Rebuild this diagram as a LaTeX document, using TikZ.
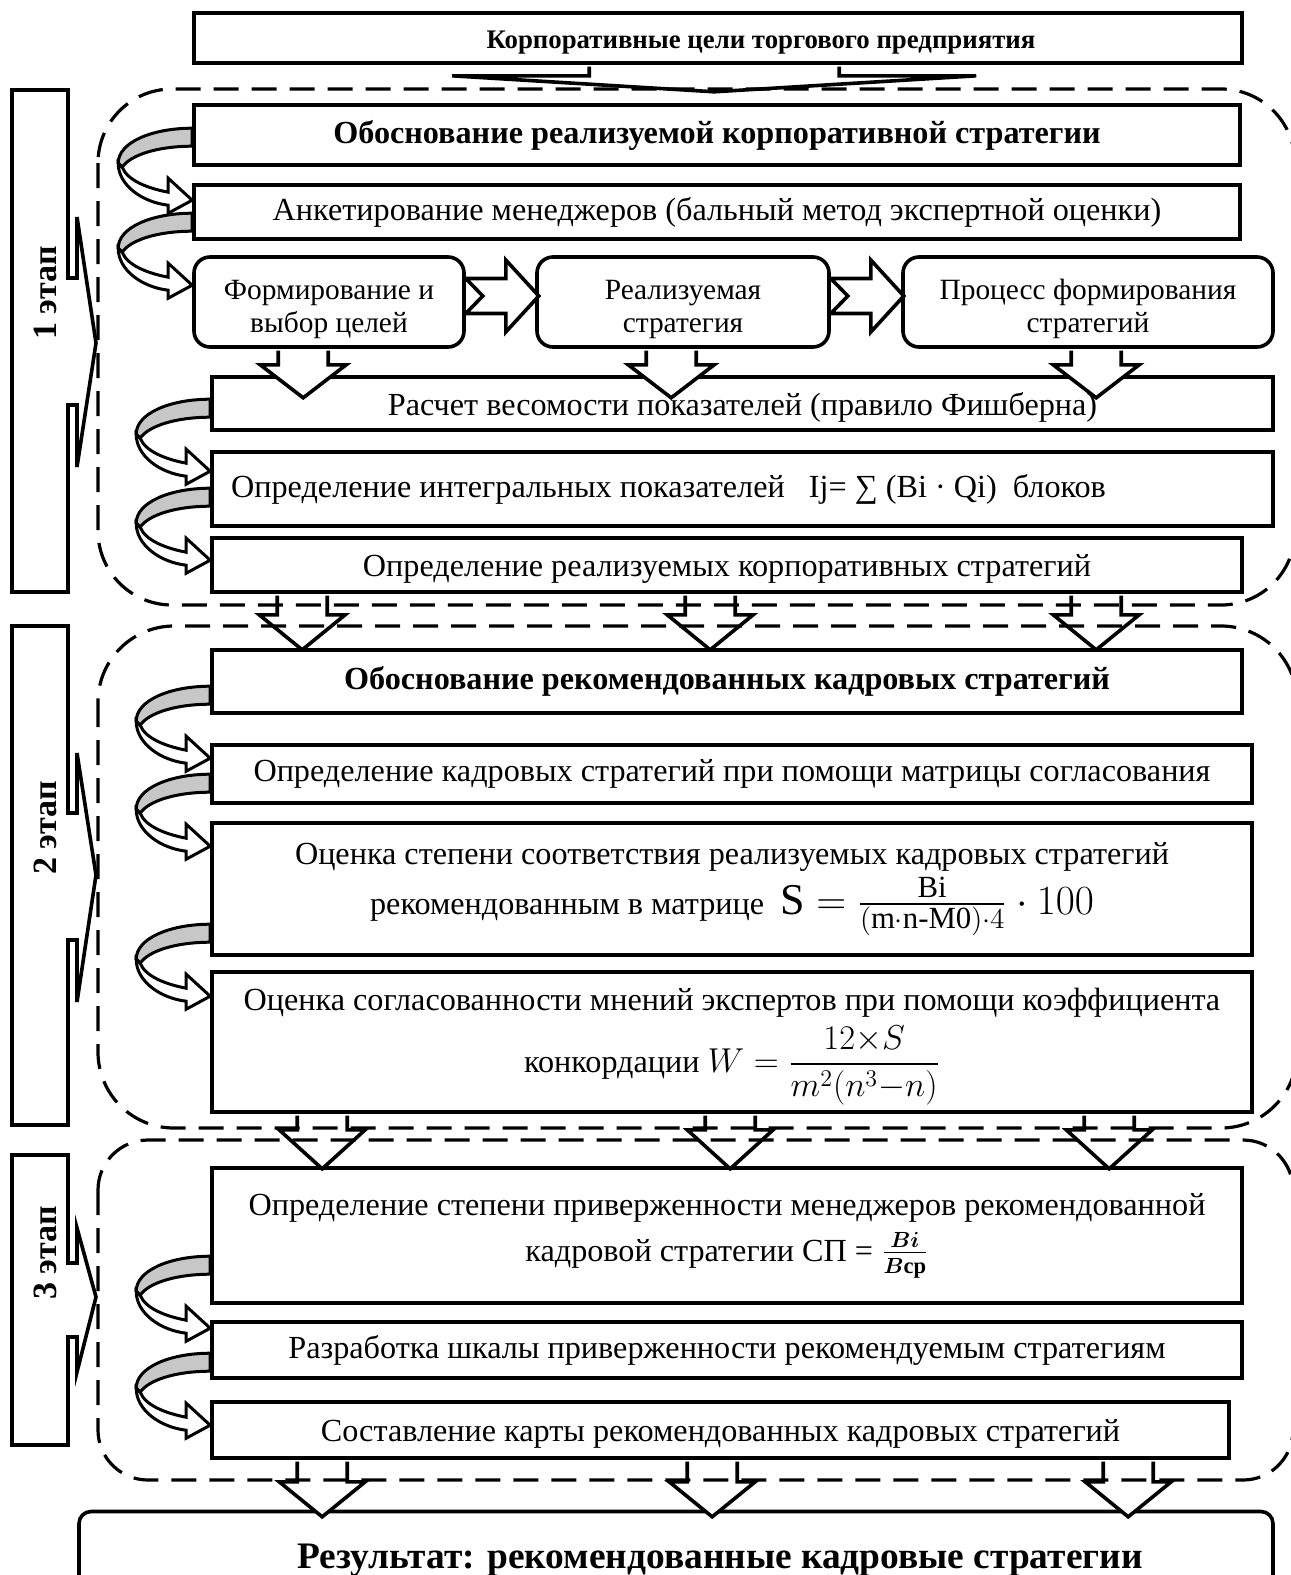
\documentclass[tikz,border=0pt]{standalone}
\usepackage{amsmath}
\usepackage{fontspec}
\setmainfont{Liberation Serif}
\usetikzlibrary{calc}

\tikzset{
	box/.style={draw, line width=1.8pt, fill=white, inner sep=0pt, align=center, font=\fontsize{16.1}{19}\selectfont},
	headbox/.style={box, font=\fontsize{16.1}{19}\selectfont\bfseries},
	rbox/.style={box, rounded corners=8pt, font=\fontsize{14.7}{16.5}\selectfont},
	blk/.style={draw, line width=1.8pt, fill=white},
	stagebox/.style={draw, line width=1.6pt, dash pattern=on 12.5pt off 6.5pt},
	stagelab/.style={rotate=90, font=\fontsize{17}{20}\selectfont\bfseries},
	pics/curl/.style={code={
		\draw[line width=1.5pt, fill=black!22] (0,-72) .. controls (-40,-72) and (-74,-58) .. (-74,-37)
			-- (-70,-33) .. controls (-62,-45) and (-35,-54) .. (0,-54) -- cycle;
		\draw[line width=1.5pt, fill=white] (-74,-37) .. controls (-74,-15) and (-50,2) .. (-24,5)
			-- (-24,13) -- (0,0) -- (-24,-22) -- (-24,-8) .. controls (-45,-12) and (-65,-20) .. (-70,-33) -- cycle;
	}},
	pics/down/.style args={#1/#2/#3/#4}{code={
		\draw[blk] (-#1,1.8) -- (-#1,#3) -- (-#2,#3) -- (0,#3+#4) -- (#2,#3) -- (#1,#3) -- (#1,1.8);
	}},
	pics/nright/.style={code={
		\draw[blk] (0,-17.5) -- (40,-17.5) -- (40,-36) -- (73,0) -- (40,36) -- (40,17.5) -- (0,17.5) -- (17,0) -- cycle;
	}},
}

\begin{document}
\begin{tikzpicture}[x=0.5pt, y=-0.5pt]
	\useasboundingbox (0,0) rectangle (1291,1575);
	% stage 1
	\node[box, font=\fontsize{13.4}{15}\selectfont\bfseries, minimum width=524pt, minimum height=25pt] (top) at (718,38) {\hspace*{43pt}\rule{0pt}{13pt}Корпоративные цели торгового предприятия};
	\node[headbox, minimum width=523pt, minimum height=30pt] (b1) at (717,135) {Обоснование реализуемой корпоративной стратегии};
	\node[box, minimum width=523pt, minimum height=27pt] (b2) at (717,212) {Анкетирование менеджеров (бальный метод экспертной оценки)};
	\node[rbox, minimum width=135pt, minimum height=45pt] (r1) at (329,302) {\rule{0pt}{17.5pt}Формирование и\\выбор целей};
	\node[rbox, minimum width=146pt, minimum height=45pt] (r2) at (683,302) {\rule{0pt}{17.5pt}Реализуемая\\стратегия};
	\node[rbox, minimum width=185pt, minimum height=45pt] (r3) at (1088,302) {\rule{0pt}{17.5pt}Процесс формирования\\стратегий};
	\node[box, minimum width=530.5pt, minimum height=26.5pt] (b3) at (742.5,403.5) {\rule{0pt}{15pt}Расчет весомости показателей (правило Фишберна)};
	\node[box, minimum width=530.5pt, minimum height=37pt] (b4) at (742.5,489) {Определение интегральных показателей \ \ Ij= ∑ (Bi · Qi) \ блоков\hspace*{74pt}\mbox{}};
	\node[box, minimum width=515pt, minimum height=27pt] (b5) at (727,565) {\rule{0pt}{15pt}Определение реализуемых корпоративных стратегий};
	% stage 2
	\node[headbox, minimum width=515pt, minimum height=31.5pt] (b6) at (727,681.5) {Обоснование рекомендованных кадровых стратегий};
	\node[box, minimum width=520pt, minimum height=29pt] (b7) at (732,774) {Определение кадровых стратегий при помощи матрицы согласования};
	\node[box, minimum width=520pt, minimum height=66pt] (b8) at (732,889) {Оценка степени соответствия реализуемых кадровых стратегий\\[2pt]
		рекомендованным в матрице \ {\fontsize{22}{24}\selectfont$\mathrm{S}=\frac{\mathrm{Bi}}{(\mathrm{m}\cdot\mathrm{n}\text{-}\mathrm{M0})\cdot 4}\cdot 100$}};
	\node[box, minimum width=520pt, minimum height=70pt] (b9) at (732,1042) {\rule{0pt}{16pt}Оценка согласованности мнений экспертов при помощи коэффициента\\[3pt]
		конкордации {\fontsize{17}{20}\selectfont$W=\dfrac{12{\times}S}{m^2(n^3{-}n)}$}};
	% stage 3
	\node[box, minimum width=515pt, minimum height=67.5pt] (b10) at (727,1235.5) {Определение степени приверженности менеджеров рекомендованной\\[4pt]
		кадровой стратегии СП = $\frac{\boldsymbol{Bi}}{\boldsymbol{B}\textbf{ср}}$};
	\node[box, minimum width=515pt, minimum height=28pt] (b11) at (727,1350) {Разработка шкалы приверженности рекомендуемым стратегиям};
	\node[box, minimum width=508.5pt, minimum height=28pt] (b12) at (720.5,1430) {\rule{0pt}{15pt}Составление карты рекомендованных кадровых стратегий};
	\node[rbox, rounded corners=6pt, font=\fontsize{18.7}{22}\selectfont\bfseries, minimum width=597pt, minimum height=48.5pt] (res) at (676,1560) {\hspace*{44pt}Результат: рекомендованные кадровые стратегии};

	% block arrows
	\pic at ($(top.south west)+(522,0)$) {down=125/262/11/16};
	\pic at ($(r1.east)+(0,-6)$) {nright};
	\pic at ($(r2.east)+(0,-6)$) {nright};
	\pic at ($(r1.south west)+(111,0)$) {down=25/43/16/33};
	\pic at ($(r2.south west)+(136,0)$) {down=25/43/16/33};
	\pic at ($(r3.south west)+(195,0)$) {down=25/43/16/33};
	\pic at ($(b5.south west)+(92,0)$) {down=25/43/21/35};
	\pic at ($(b5.south west)+(500,0)$) {down=25/43/21/35};
	\pic at ($(b5.south west)+(886,0)$) {down=25/43/21/35};
	\pic at ($(b9.south west)+(112,0)$) {down=25/43/16/39};
	\pic at ($(b9.south west)+(520,0)$) {down=25/43/16/39};
	\pic at ($(b9.south west)+(899,0)$) {down=25/43/16/39};
	\pic at ($(b12.south west)+(112,0)$) {down=25/43/22/35};
	\pic at ($(b12.south west)+(502,0)$) {down=25/43/22/35};
	\pic at ($(b12.south west)+(918,0)$) {down=25/43/22/35};

	% curved arrows
	\pic at ($(b2.north west)+(0,17)$) {curl};
	\pic at ($(r1.north west)+(0,30)$) {curl};
	\pic at ($(b4.north west)+(0,21)$) {curl};
	\pic at ($(b5.north west)+(0,24)$) {curl};
	\pic at ($(b7.north west)+(0,15)$) {curl};
	\pic at ($(b8.north west)+(0,25)$) {curl};
	\pic at ($(b9.north west)+(0,26)$) {curl};
	\pic at ($(b11.north west)+(0,8)$) {curl};
	\pic at ($(b12.north west)+(0,25)$) {curl};

	% stages
	\draw[stagebox, rounded corners=37pt] (98,89) rectangle (1295,605);
	\draw[stagebox, rounded corners=38pt] (98,626) rectangle (1297,1128);
	\draw[stagebox, rounded corners=25pt] (98,1140) rectangle (1293,1480);
	\draw[blk] (12,90) -- (68,90) -- (68,278) -- (77,278) -- (77,217) -- (96,343) -- (77,467) -- (77,405) -- (68,405) -- (68,592) -- (12,592) -- cycle;
	\draw[blk] (12,626) -- (68,626) -- (68,813) -- (77,813) -- (77,753) -- (96,875) -- (77,1002) -- (77,940) -- (68,940) -- (68,1125) -- (12,1125) -- cycle;
	\draw[blk] (12,1155) -- (68,1155) -- (68,1263) -- (77,1263) -- (77,1228) -- (96,1297) -- (77,1372) -- (77,1337) -- (68,1337) -- (68,1445) -- (12,1445) -- cycle;
	\node[stagelab] (lab1) at (45,293) {1 этап};
	\node[stagelab] (lab2) at (45,828) {2 этап};
	\node[stagelab] (lab3) at (45,1253) {3 этап};
\end{tikzpicture}
\end{document}
